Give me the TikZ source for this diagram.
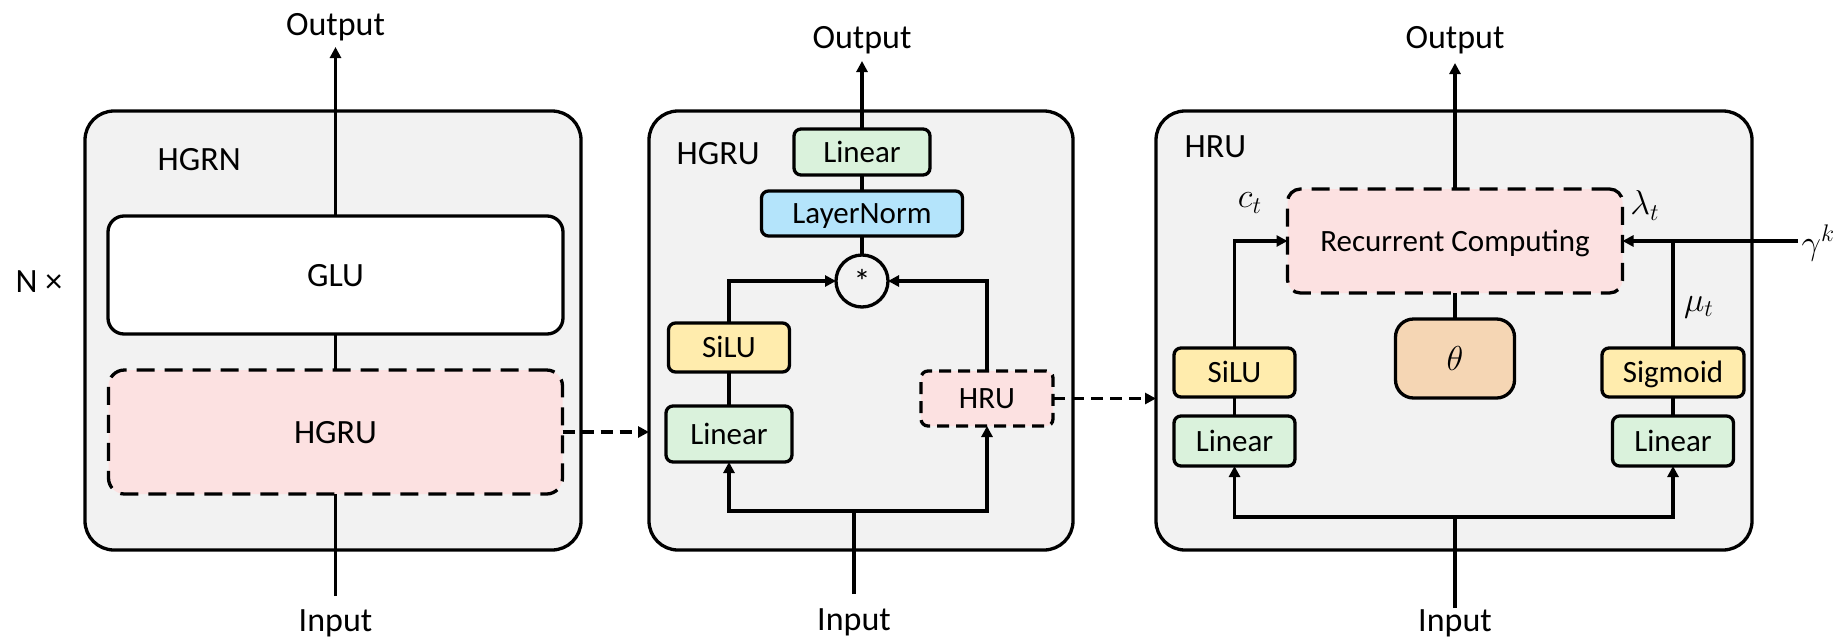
\documentclass[tikz,border=0pt]{standalone}
\usepackage{fontspec}
\setmainfont{Carlito}
\usetikzlibrary{arrows.meta}
\definecolor{panelgray}{RGB}{242,242,242}
\definecolor{pinkfill}{RGB}{252,225,225}
\definecolor{greenfill}{RGB}{218,242,220}
\definecolor{bluefill}{RGB}{180,228,251}
\definecolor{yellowfill}{RGB}{255,236,173}
\definecolor{orangefill}{RGB}{245,214,180}
\begin{document}
\begin{tikzpicture}[x=0.5pt,y=-0.5pt,line width=1.65pt,
  sz/.style 2 args={minimum width={#1*0.5pt}, minimum height={#2*0.5pt}},
  panel/.style={draw, line width=1.65pt, fill=panelgray, rounded corners=14.5pt, inner sep=0pt, outer sep=0pt},
  box/.style={draw, line width=1.65pt, rounded corners=3.5pt, inner sep=0pt, outer sep=0pt,
    font=\fontsize{15.5}{18}\selectfont, text height=10pt, text depth=0pt},
  bigbox/.style={draw, line width=1.65pt, rounded corners=8pt, inner sep=0pt, outer sep=0pt,
    font=\fontsize{17}{20}\selectfont, text height=11pt, text depth=0pt},
  thetabox/.style={draw, line width=1.65pt, rounded corners=9pt, inner sep=0pt, outer sep=0pt,
    font=\fontsize{18}{21}\selectfont},
  bigdash/.style={dash pattern=on 9pt off 5pt},
  smalldash/.style={dash pattern=on 6pt off 3.5pt},
  lbl/.style={font=\fontsize{17}{20}\selectfont, inner sep=0pt, anchor=base},
  mlbl/.style={font=\fontsize{18}{21}\selectfont, inner sep=0pt},
  arr/.style={-{Triangle[length=5.5pt,width=5.5pt]}},
  dasharr/.style={arr, dash pattern=on 6pt off 3.5pt}
]
\useasboundingbox (0,0) rectangle (1847,638);

% panels
\node[panel, sz={496}{439}] (pL) at (333,330.5) {};
\node[panel, sz={424}{439}] (pM) at (861,330.5) {};
\node[panel, sz={596}{439}] (pR) at (1454,330.5) {};

% ---------- left panel ----------
\node[lbl, anchor=base west] (hgrnlbl) at (156,170) {HGRN};
\node[lbl, anchor=base west] (nx) at (14,292) {N ×};
\node[bigbox, fill=white, sz={455}{118}] (GLU) at (335.5,275) {GLU};
\node[bigbox, fill=pinkfill, bigdash, sz={454}{124}] (HGRUb) at (335.5,432) {HGRU};
\node[lbl] (outL) at (335.5,35) {Output};
\node[lbl] (inL) at (335.5,631) {Input};
\coordinate (outLtip) at (335.5,47);
\coordinate (inLstart) at (335.5,596);
\draw[arr] (GLU.north) -- (outLtip);
\draw (GLU.south) -- (HGRUb.north);
\draw (inLstart) -- (HGRUb.south);
\draw[dasharr] (HGRUb.east) -- (HGRUb.east -| pM.west);

% ---------- middle panel ----------
\node[lbl, anchor=base west] (hgrulbl) at (675,164) {HGRU};
\node[box, fill=greenfill, sz={136}{46}] (LinT) at (862,152) {Linear};
\node[box, fill=bluefill, sz={201}{45}] (LN) at (862,213.5) {LayerNorm};
\node[circle, draw, line width=1.65pt, minimum size=26pt, inner sep=0pt, outer sep=0pt,
  font=\fontsize{17}{20}\selectfont] (mul) at (862,281) {*};
\node[box, fill=yellowfill, sz={121}{49}] (SiLUM) at (729,347.5) {SiLU};
\node[box, fill=greenfill, sz={126}{56}] (LinM) at (729,434) {Linear};
\node[box, fill=pinkfill, smalldash, sz={132}{55}] (HRUs) at (987,398.5) {HRU};
\node[lbl] (outM) at (862,48) {Output};
\node[lbl] (inM) at (854,630) {Input};
\coordinate (outMtip) at (862,61);
\coordinate (inMstart) at (854,594);
\coordinate (busM) at (854,511);
\draw[arr] (LinT.north) -- (outMtip);
\draw (LN.north) -- (LinT.south);
\draw (mul.north) -- (LN.south);
\draw (LinM.north) -- (SiLUM.south);
\draw[arr] (SiLUM.north) |- (mul.west);
\draw[arr] (HRUs.north) |- (mul.east);
\draw (inMstart) -- (busM);
\draw[arr] (busM) -| (LinM.south);
\draw[arr] (busM) -| (HRUs.south);
\draw[dasharr] (HRUs.east) -- (HRUs.east -| pR.west);

% ---------- right panel ----------
\node[lbl, anchor=base west] (hrulbl) at (1183,157.5) {HRU};
\node[box, fill=pinkfill, bigdash, rounded corners=6.5pt, sz={335}{104}] (RC) at (1455,241) {Recurrent Computing};
\node[thetabox, fill=orangefill, sz={119}{79}] (theta) at (1455,358.5) {$\theta$};
\node[box, fill=yellowfill, sz={121}{49}] (SiLUR) at (1234.5,372.5) {SiLU};
\node[box, fill=greenfill, sz={121}{50}] (LinR1) at (1234.5,441) {Linear};
\node[box, fill=yellowfill, sz={142}{49}] (Sig) at (1673,372.5) {Sigmoid};
\node[box, fill=greenfill, sz={121}{50}] (LinR2) at (1673,441) {Linear};
\node[lbl] (outR) at (1455,48) {Output};
\node[lbl] (inR) at (1455,631) {Input};
\coordinate (outRtip) at (1455,63);
\coordinate (inRstart) at (1455,608);
\coordinate (busR) at (1455,517);
\coordinate (gamtip) at (1798,241);
\node[mlbl] (ct) at (1250,203) {$c_t$};
\node[mlbl] (lt) at (1645,205.5) {$\lambda_t$};
\node[mlbl] (mt) at (1699,307) {$\mu_t$};
\node[mlbl, anchor=west] (gam) at (1800,243) {$\gamma^k$};
\draw[arr] (RC.north) -- (outRtip);
\draw (RC.south) -- (theta.north);
\draw (LinR1.north) -- (SiLUR.south);
\draw (LinR2.north) -- (Sig.south);
\draw[arr] (SiLUR.north) |- (RC.west);
\draw[arr] (gamtip) -- (RC.east);
\draw (Sig.north) -- (Sig.north |- RC.east);
\draw (inRstart) -- (busR);
\draw[arr] (busR) -| (LinR1.south);
\draw[arr] (busR) -| (LinR2.south);
\end{tikzpicture}
\end{document}
